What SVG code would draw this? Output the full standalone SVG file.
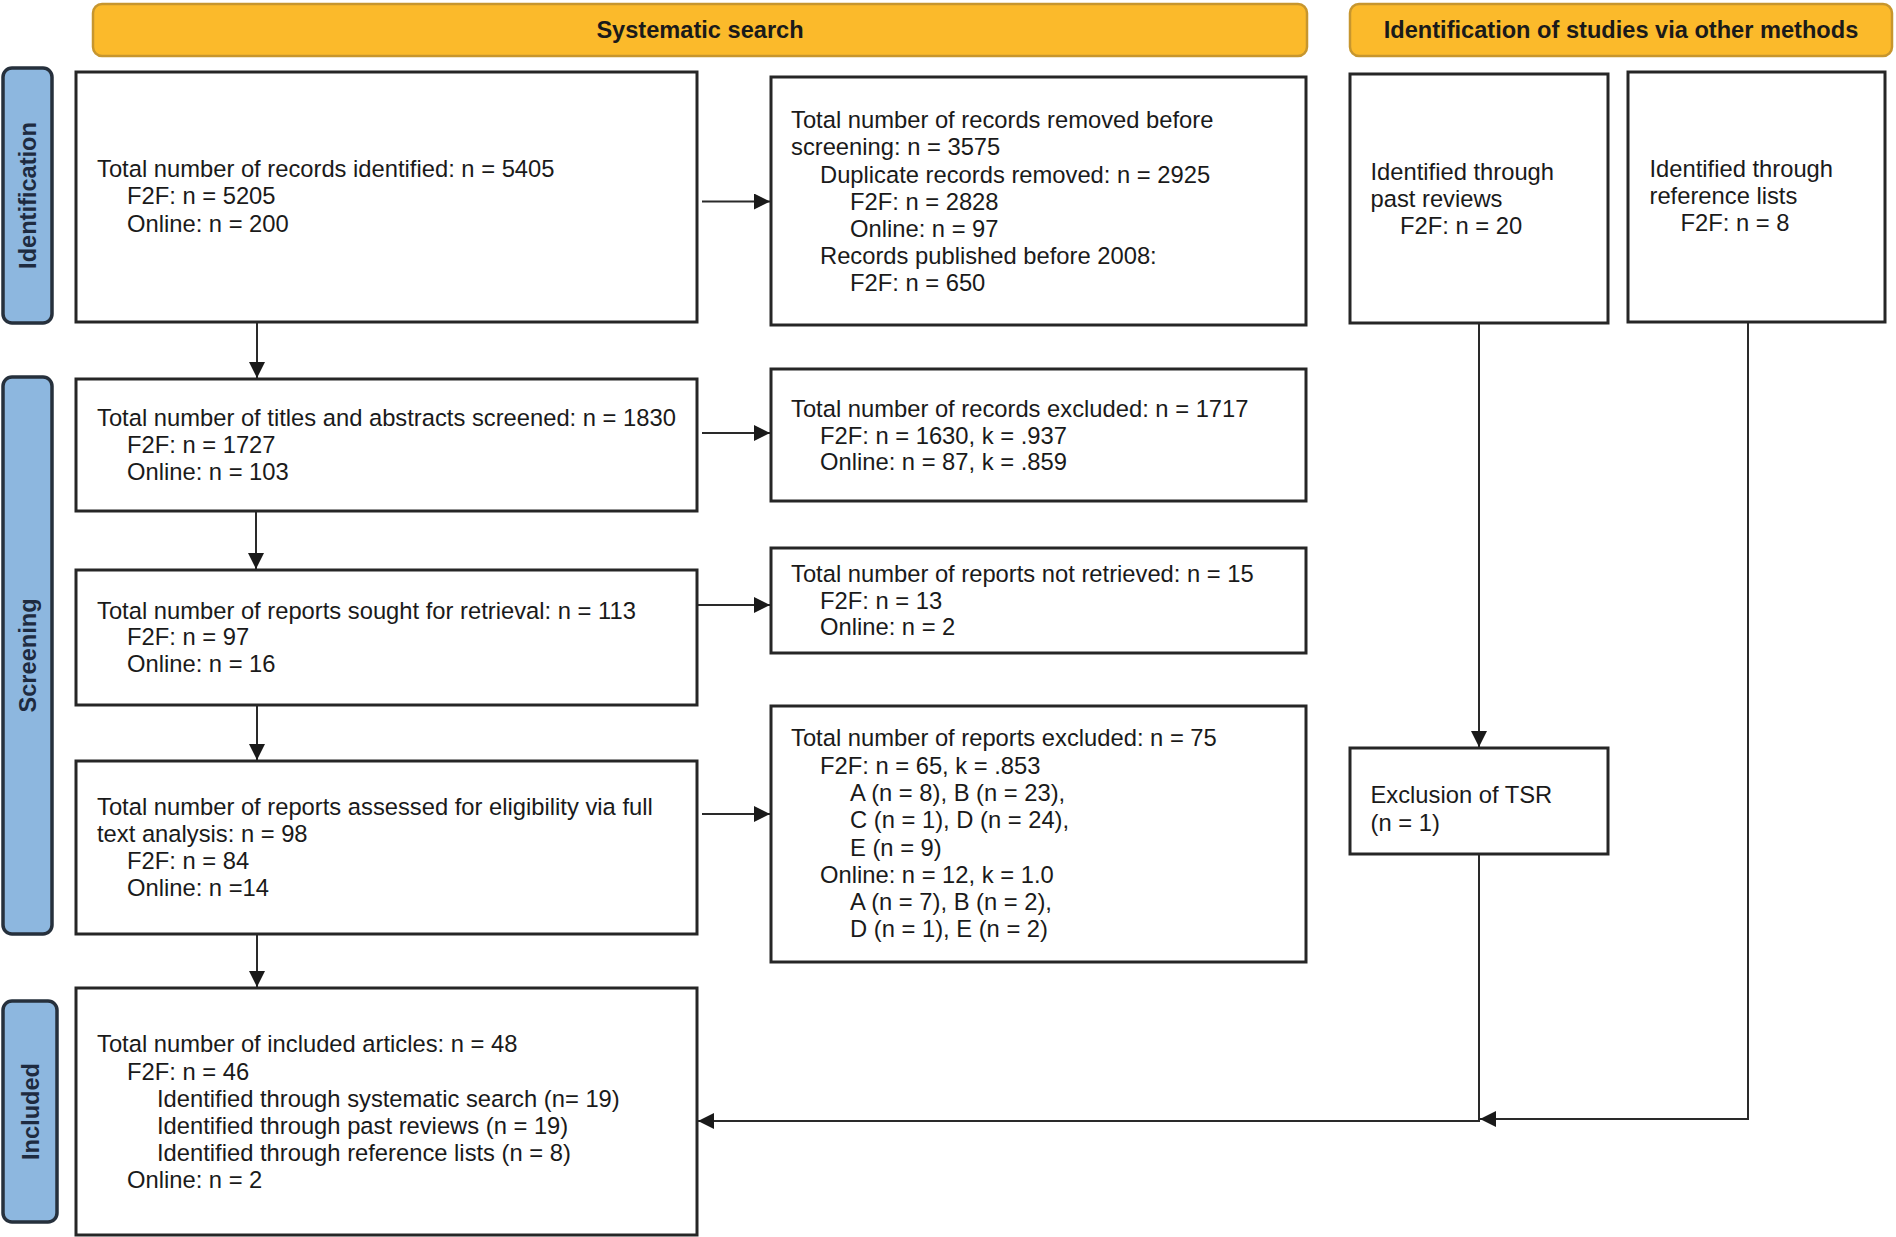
<svg xmlns="http://www.w3.org/2000/svg" width="1896" height="1237" viewBox="0 0 1896 1237">
<defs>
<style>
.hdr{fill:#FBBA2B;stroke:#C7962E;stroke-width:2.5}
.hdrt{font-family:"Liberation Sans",Arial,sans-serif;font-weight:bold;font-size:23.6px;fill:#1a1a1a;text-anchor:middle}
.side{fill:#8DB7DF;stroke:#26303c;stroke-width:3.5}
.sidet{font-family:"Liberation Sans",Arial,sans-serif;font-weight:bold;font-size:23.6px;fill:#1e2b40;text-anchor:middle}
.box{fill:#ffffff;stroke:#262626;stroke-width:3}
.t{font-family:"Liberation Sans",Arial,sans-serif;font-size:23.75px;fill:#1a1a1a}
.c{fill:none;stroke:#2a2a2a;stroke-width:2}
</style>
<marker id="arr" markerUnits="userSpaceOnUse" viewBox="0 0 16 16" refX="16" refY="8" markerWidth="16" markerHeight="16" orient="auto">
<path d="M0,0 L16,8 L0,16 z" fill="#1a1a1a"/>
</marker>
</defs>
<rect width="1896" height="1237" fill="#ffffff"/>

<g id="header-systematic">
<rect class="hdr" x="93" y="4" width="1214" height="52" rx="9"/>
<text class="hdrt" x="700" y="38">Systematic search</text>
</g>
<g id="header-other">
<rect class="hdr" x="1350" y="4" width="542" height="52" rx="9"/>
<text class="hdrt" x="1621" y="38">Identification of studies via other methods</text>
</g>

<g id="label-identification">
<rect class="side" x="3" y="68" width="49" height="255" rx="9"/>
<text class="sidet" transform="translate(36,195.5) rotate(-90)">Identification</text>
</g>
<g id="label-screening">
<rect class="side" x="3" y="377" width="49" height="557" rx="9"/>
<text class="sidet" transform="translate(36,655.5) rotate(-90)">Screening</text>
</g>
<g id="label-included">
<rect class="side" x="3" y="1001" width="54" height="221" rx="9"/>
<text class="sidet" transform="translate(38.5,1111.5) rotate(-90)">Included</text>
</g>

<g id="connectors">
<line class="c" x1="702" y1="201.5" x2="770" y2="201.5" marker-end="url(#arr)"/>
<line class="c" x1="257" y1="322" x2="257" y2="378" marker-end="url(#arr)"/>
<line class="c" x1="702" y1="433" x2="770" y2="433" marker-end="url(#arr)"/>
<line class="c" x1="256" y1="511" x2="256" y2="569" marker-end="url(#arr)"/>
<line class="c" x1="698" y1="605" x2="770" y2="605" marker-end="url(#arr)"/>
<line class="c" x1="257" y1="705" x2="257" y2="760" marker-end="url(#arr)"/>
<line class="c" x1="702" y1="814" x2="770" y2="814" marker-end="url(#arr)"/>
<line class="c" x1="257" y1="934" x2="257" y2="987" marker-end="url(#arr)"/>
<line class="c" x1="1479" y1="323" x2="1479" y2="747" marker-end="url(#arr)"/>
<polyline class="c" points="1479,854 1479,1121 698,1121" marker-end="url(#arr)"/>
<polyline class="c" points="1748,322 1748,1119 1480,1119" marker-end="url(#arr)"/>
</g>

<g id="node-identified">
<rect class="box" x="76" y="72" width="621" height="250"/>
<text class="t" x="97" y="177">Total number of records identified: n = 5405</text>
<text class="t" x="127" y="204">F2F: n = 5205</text>
<text class="t" x="127" y="231.5">Online: n = 200</text>
</g>

<g id="node-removed">
<rect class="box" x="771" y="77" width="535" height="248"/>
<text class="t" x="791" y="128">Total number of records removed before</text>
<text class="t" x="791" y="155">screening: n = 3575</text>
<text class="t" x="820" y="182.5">Duplicate records removed: n = 2925</text>
<text class="t" x="850" y="210">F2F: n = 2828</text>
<text class="t" x="850" y="237">Online: n = 97</text>
<text class="t" x="820" y="264">Records published before 2008:</text>
<text class="t" x="850" y="291">F2F: n = 650</text>
</g>

<g id="node-screened">
<rect class="box" x="76" y="379" width="621" height="132"/>
<text class="t" x="97" y="426">Total number of titles and abstracts screened: n = 1830</text>
<text class="t" x="127" y="453">F2F: n = 1727</text>
<text class="t" x="127" y="479.5">Online: n = 103</text>
</g>

<g id="node-records-excluded">
<rect class="box" x="771" y="369" width="535" height="132"/>
<text class="t" x="791" y="417">Total number of records excluded: n = 1717</text>
<text class="t" x="820" y="443.5">F2F: n = 1630, k = .937</text>
<text class="t" x="820" y="470">Online: n = 87, k = .859</text>
</g>

<g id="node-sought">
<rect class="box" x="76" y="570" width="621" height="135"/>
<text class="t" x="97" y="618.5">Total number of reports sought for retrieval: n = 113</text>
<text class="t" x="127" y="645">F2F: n = 97</text>
<text class="t" x="127" y="672">Online: n = 16</text>
</g>

<g id="node-not-retrieved">
<rect class="box" x="771" y="548" width="535" height="105"/>
<text class="t" x="791" y="582">Total number of reports not retrieved: n = 15</text>
<text class="t" x="820" y="608.5">F2F: n = 13</text>
<text class="t" x="820" y="635">Online: n = 2</text>
</g>

<g id="node-assessed">
<rect class="box" x="76" y="761" width="621" height="173"/>
<text class="t" x="97" y="815">Total number of reports assessed for eligibility via full</text>
<text class="t" x="97" y="842">text analysis: n = 98</text>
<text class="t" x="127" y="869">F2F: n = 84</text>
<text class="t" x="127" y="895.5">Online: n =14</text>
</g>

<g id="node-reports-excluded">
<rect class="box" x="771" y="706" width="535" height="256"/>
<text class="t" x="791" y="746">Total number of reports excluded: n = 75</text>
<text class="t" x="820" y="773.5">F2F: n = 65, k = .853</text>
<text class="t" x="850" y="801">A (n = 8), B (n = 23),</text>
<text class="t" x="850" y="828">C (n = 1), D (n = 24),</text>
<text class="t" x="850" y="855.5">E (n = 9)</text>
<text class="t" x="820" y="882.5">Online: n = 12, k = 1.0</text>
<text class="t" x="850" y="909.5">A (n = 7), B (n = 2),</text>
<text class="t" x="850" y="936.5">D (n = 1), E (n = 2)</text>
</g>

<g id="node-included">
<rect class="box" x="76" y="988" width="621" height="247"/>
<text class="t" x="97" y="1052">Total number of included articles: n = 48</text>
<text class="t" x="127" y="1079.5">F2F: n = 46</text>
<text class="t" x="157" y="1107">Identified through systematic search (n= 19)</text>
<text class="t" x="157" y="1134">Identified through past reviews (n = 19)</text>
<text class="t" x="157" y="1161">Identified through reference lists (n = 8)</text>
<text class="t" x="127" y="1188">Online: n = 2</text>
</g>

<g id="node-past-reviews">
<rect class="box" x="1350" y="74" width="258" height="249"/>
<text class="t" x="1370.5" y="180">Identified through</text>
<text class="t" x="1370.5" y="207">past reviews</text>
<text class="t" x="1400" y="233.5">F2F: n = 20</text>
</g>

<g id="node-reference-lists">
<rect class="box" x="1628" y="72" width="257" height="250"/>
<text class="t" x="1649.5" y="177">Identified through</text>
<text class="t" x="1649.5" y="204">reference lists</text>
<text class="t" x="1680.5" y="231">F2F: n = 8</text>
</g>

<g id="node-exclusion-tsr">
<rect class="box" x="1350" y="748" width="258" height="106"/>
<text class="t" x="1370.5" y="803">Exclusion of TSR</text>
<text class="t" x="1370.5" y="830.5">(n = 1)</text>
</g>
</svg>
